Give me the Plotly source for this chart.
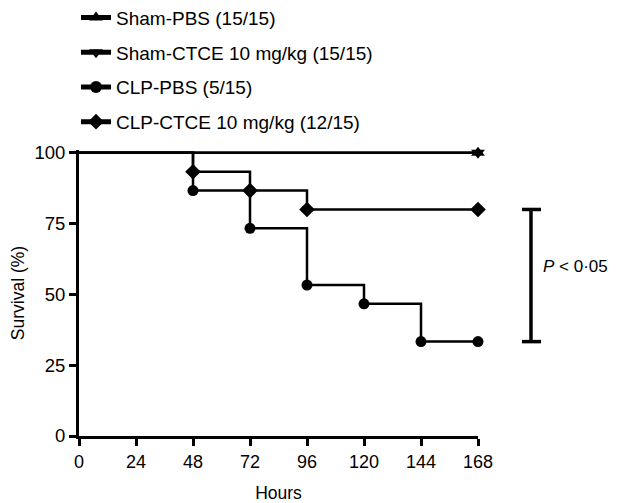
import plotly.graph_objects as go

# ---- data ----
hours_ticks = [0, 24, 48, 72, 96, 120, 144, 168]
survival_ticks = [0, 25, 50, 75, 100]

sham_pbs_x = [0, 168]
sham_pbs_y = [100, 100]
sham_ctce_x = [0, 168]
sham_ctce_y = [100, 100]

clp_pbs_x = [0, 48, 72, 96, 120, 144, 168]
clp_pbs_y = [100, 86.67, 73.33, 53.33, 46.67, 33.33, 33.33]

clp_ctce_x = [0, 48, 72, 96, 168]
clp_ctce_y = [100, 93.33, 86.67, 80.0, 80.0]

names = ["Sham-PBS (15/15)", "Sham-CTCE 10 mg/kg (15/15)",
         "CLP-PBS (5/15)", "CLP-CTCE 10 mg/kg (12/15)"]
p_label = "<i>P</i> < 0·05"

FONT = "Liberation Sans, Arial, Helvetica, sans-serif"
BLACK = "#000000"

def sizes(xs, s, only_last=False):
    if only_last:
        return [0] * (len(xs) - 1) + [s]
    return [0] + [s] * (len(xs) - 1)

fig = go.Figure()
series = [
    (sham_pbs_x, sham_pbs_y, "triangle-up", 12, True),
    (sham_ctce_x, sham_ctce_y, "triangle-down", 12, True),
    (clp_pbs_x, clp_pbs_y, "circle", 11, False),
    (clp_ctce_x, clp_ctce_y, "diamond", 12, False),
]
for i, (xs, ys, sym, ms, last) in enumerate(series):
    fig.add_trace(go.Scatter(
        x=xs, y=ys, mode="lines+markers", name=names[i],
        line=dict(color=BLACK, width=2.5, shape="hv"),
        marker=dict(symbol=sym, size=sizes(xs, ms, last), color=BLACK,
                    opacity=1, line=dict(color=BLACK, width=0)),
        cliponaxis=False, legendgroup=f"g{i}",
    ))

# significance bracket between CLP groups' final survival
y_top = clp_ctce_y[-1]
y_bot = clp_pbs_y[-1]
fig.add_shape(type="line", xref="paper", yref="y", x0=1.1328, x1=1.1328,
              y0=y_bot, y1=y_top, line=dict(color=BLACK, width=3.5))
for yy in (y_top, y_bot):
    fig.add_shape(type="line", xref="paper", yref="y", x0=1.1103, x1=1.1579,
                  y0=yy, y1=yy, line=dict(color=BLACK, width=3.5))
fig.add_annotation(xref="paper", yref="y", x=1.158, y=(y_top + y_bot) / 2,
                   yshift=9, xanchor="left", yanchor="middle", showarrow=False,
                   text=p_label, font=dict(family=FONT, size=17, color=BLACK))

# page body has an 8px default margin: figure sized/margined to compensate
fig.update_layout(
    width=609, height=495,
    margin=dict(l=71, r=139, t=142, b=67, autoexpand=False),
    paper_bgcolor="white", plot_bgcolor="white",
    font=dict(family=FONT, size=17, color=BLACK),
    showlegend=True,
    legend=dict(x=-0.0075, y=1.529, xanchor="left", yanchor="top",
                font=dict(family=FONT, size=19, color=BLACK),
                itemsizing="constant", tracegroupgap=7,
                traceorder="grouped", bgcolor="rgba(0,0,0,0)"),
    xaxis=dict(range=[0, 168], tickvals=hours_ticks, ticktext=[str(v) for v in hours_ticks],
               showgrid=False, zeroline=False, showline=True, linecolor=BLACK, linewidth=3,
               ticks="outside", ticklen=7, tickwidth=3, tickcolor=BLACK,
               title=dict(text="Hours", font=dict(size=17.5), standoff=18),
               tickfont=dict(size=18)),
    yaxis=dict(range=[0, 101], tickvals=survival_ticks, ticktext=[str(v) for v in survival_ticks],
               showgrid=False, zeroline=False, showline=True, linecolor=BLACK, linewidth=3,
               ticks="outside", ticklen=7, tickwidth=3, tickcolor=BLACK,
               title=dict(text="Survival (%)", font=dict(size=17.5), standoff=19),
               tickfont=dict(size=18.5)),
)

fig.write_html("out.html")
